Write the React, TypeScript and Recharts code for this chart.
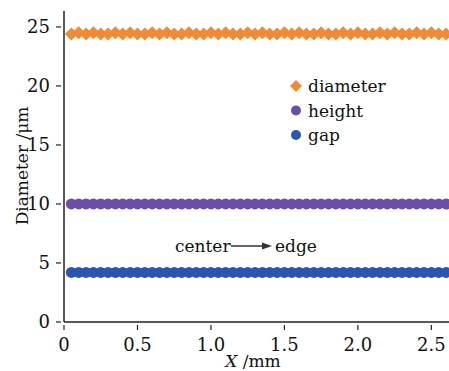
import React from "react";
import { ComposedChart, Scatter, XAxis, YAxis } from "recharts";

const xValues = [
  0.05, 0.1, 0.15, 0.2, 0.25, 0.3, 0.35, 0.4, 0.45, 0.5, 0.55, 0.6, 0.65,
  0.7, 0.75, 0.8, 0.85, 0.9, 0.95, 1.0, 1.05, 1.1, 1.15, 1.2, 1.25, 1.3,
  1.35, 1.4, 1.45, 1.5, 1.55, 1.6, 1.65, 1.7, 1.75, 1.8, 1.85, 1.9, 1.95,
  2.0, 2.05, 2.1, 2.15, 2.2, 2.25, 2.3, 2.35, 2.4, 2.45, 2.5, 2.55, 2.6,
];

const diameter = [
  24.4, 24.5, 24.4, 24.5, 24.4, 24.4, 24.5, 24.4, 24.5, 24.4, 24.4, 24.5,
  24.4, 24.5, 24.4, 24.4, 24.5, 24.4, 24.4, 24.5, 24.4, 24.5, 24.4, 24.4,
  24.5, 24.4, 24.5, 24.4, 24.4, 24.5, 24.4, 24.5, 24.4, 24.4, 24.5, 24.4,
  24.4, 24.5, 24.4, 24.5, 24.4, 24.4, 24.5, 24.4, 24.5, 24.4, 24.4, 24.5,
  24.4, 24.5, 24.4, 24.4,
];

const height = [
  10.0, 10.0, 10.0, 10.0, 10.0, 10.0, 10.0, 10.0, 10.0, 10.0, 10.0, 10.0,
  10.0, 10.0, 10.0, 10.0, 10.0, 10.0, 10.0, 10.0, 10.0, 10.0, 10.0, 10.0,
  10.0, 10.0, 10.0, 10.0, 10.0, 10.0, 10.0, 10.0, 10.0, 10.0, 10.0, 10.0,
  10.0, 10.0, 10.0, 10.0, 10.0, 10.0, 10.0, 10.0, 10.0, 10.0, 10.0, 10.0,
  10.0, 10.0, 10.0, 10.0,
];

const gap = [
  4.2, 4.2, 4.2, 4.2, 4.2, 4.2, 4.2, 4.2, 4.2, 4.2, 4.2, 4.2, 4.2, 4.2,
  4.2, 4.2, 4.2, 4.2, 4.2, 4.2, 4.2, 4.2, 4.2, 4.2, 4.2, 4.2, 4.2, 4.2,
  4.2, 4.2, 4.2, 4.2, 4.2, 4.2, 4.2, 4.2, 4.2, 4.2, 4.2, 4.2, 4.2, 4.2,
  4.2, 4.2, 4.2, 4.2, 4.2, 4.2, 4.2, 4.2, 4.2, 4.2,
];

const xTicks = [0, 0.5, 1.0, 1.5, 2.0, 2.5];
const yTicks = [0, 5, 10, 15, 20, 25];
const seriesNames = ["diameter", "height", "gap"];

const FONT = "'DejaVu Serif', 'Liberation Serif', serif";
const ORANGE = "#F08A35";
const PURPLE = "#6A4FAA";
const BLUE = "#2A55B0";
const colors = [ORANGE, PURPLE, BLUE];

const diameterData = xValues.map((x, i) => ({ x, y: diameter[i] }));
const heightData = xValues.map((x, i) => ({ x, y: height[i] }));
const gapData = xValues.map((x, i) => ({ x, y: gap[i] }));

const Diamond = (props: any) => {
  const { cx, cy, fill } = props;
  const r = 6.5;
  return (
    <path
      d={`M${cx},${cy - r}L${cx + r},${cy}L${cx},${cy + r}L${cx - r},${cy}Z`}
      fill={fill}
    />
  );
};

const Dot = (props: any) => {
  const { cx, cy, fill } = props;
  return <circle cx={cx} cy={cy} r={5.5} fill={fill} />;
};

const XTick = (props: any) => {
  const { x, y, payload } = props;
  const label = payload.value === 0 ? "0" : payload.value.toFixed(1);
  return (
    <g>
      <line x1={x} y1={y} x2={x} y2={y - 5} stroke="#222" strokeWidth={1.2} />
      <text x={x} y={y + 21} textAnchor="middle" fontFamily={FONT} fontSize={18} fill="#111">
        {label}
      </text>
    </g>
  );
};

const YTick = (props: any) => {
  const { x, y, payload } = props;
  return (
    <g>
      <line x1={x} y1={y} x2={x + 5} y2={y} stroke="#222" strokeWidth={1.2} />
      <text x={x - 6} y={y + 6} textAnchor="end" fontFamily={FONT} fontSize={18} fill="#111">
        {payload.value}
      </text>
    </g>
  );
};

export default function App() {
  return (
    <div style={{ position: "relative", width: 449, height: 371, background: "#fff", overflow: "hidden" }}>
      <style>{"body{margin:0}"}</style>
      <ComposedChart
        width={449}
        height={371}
        margin={{ top: 11, right: 0, bottom: 0, left: 0 }}
      >
        <XAxis
          xAxisId="top"
          orientation="top"
          type="number"
          dataKey="x"
          domain={[0, 2.62]}
          tick={false}
          tickLine={false}
          axisLine={{ stroke: "#555", strokeWidth: 1.5 }}
          height={0}
        />
        <XAxis
          type="number"
          dataKey="x"
          domain={[0, 2.62]}
          ticks={xTicks}
          tick={<XTick />}
          tickLine={false}
          axisLine={{ stroke: "#222", strokeWidth: 1.5 }}
          height={49}
          allowDataOverflow
        />
        <YAxis
          type="number"
          dataKey="y"
          domain={[0, 26.35]}
          ticks={yTicks}
          tick={<YTick />}
          tickLine={false}
          axisLine={{ stroke: "#222", strokeWidth: 1.5 }}
          width={64}
          allowDataOverflow
        />
        <Scatter name="diameter" data={diameterData} fill={ORANGE} shape={<Diamond />} isAnimationActive={false} />
        <Scatter name="height" data={heightData} fill={PURPLE} shape={<Dot />} isAnimationActive={false} />
        <Scatter name="gap" data={gapData} fill={BLUE} shape={<Dot />} isAnimationActive={false} />
      </ComposedChart>
      <svg
        width={449}
        height={371}
        style={{ position: "absolute", left: 0, top: 0, pointerEvents: "none" }}
      >
        <text
          x={22}
          y={166}
          transform="rotate(-90 22 166)"
          textAnchor="middle"
          dominantBaseline="central"
          fontFamily={FONT}
          fontSize={17}
          fill="#111"
        >
          Diameter /μm
        </text>
        <text x={253} y={367} textAnchor="middle" fontFamily={FONT} fontSize={17} fill="#111">
          <tspan fontStyle="italic">X</tspan>
          <tspan> /mm</tspan>
        </text>
        <text x={175} y={252} fontFamily={FONT} fontSize={17} fill="#111">
          center
        </text>
        <line x1={231} y1={246} x2={264} y2={246} stroke="#333" strokeWidth={1.3} />
        <path d="M272,246L262,242.5L262,249.5Z" fill="#333" />
        <text x={275} y={252} fontFamily={FONT} fontSize={17} fill="#111">
          edge
        </text>
        {seriesNames.map((name, i) => {
          const cy = 86 + i * 24.5;
          return (
            <g key={name}>
              {i === 0 ? (
                <path d={`M296,${cy - 6}L302,${cy}L296,${cy + 6}L290,${cy}Z`} fill={colors[i]} />
              ) : (
                <circle cx={296} cy={cy} r={5} fill={colors[i]} />
              )}
              <text x={308} y={cy + 6} fontFamily={FONT} fontSize={17} fill="#111">
                {name}
              </text>
            </g>
          );
        })}
      </svg>
    </div>
  );
}
